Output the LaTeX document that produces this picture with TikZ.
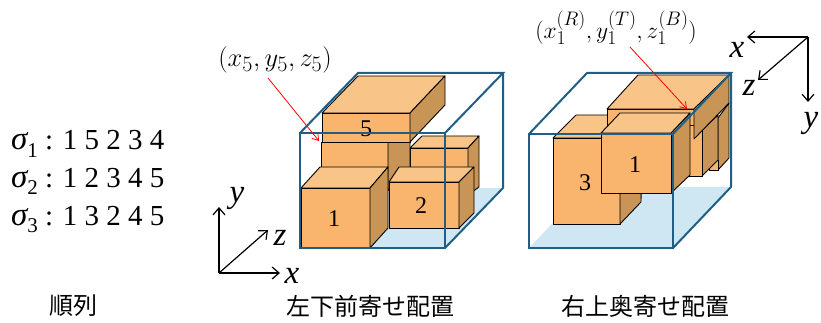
\documentclass[tikz,border=0pt]{standalone}
\usepackage{graphicx}
\usepackage{fontspec}
\setmainfont{Liberation Serif}
\newfontfamily\cjk{Noto Sans CJK JP}
\usetikzlibrary{arrows.meta}
\definecolor{framec}{HTML}{1F5F85}
\definecolor{floorc}{HTML}{CFE6F3}
\definecolor{frontc}{HTML}{F9B56D}
\definecolor{topc}{HTML}{F9C488}
\definecolor{sidec}{HTML}{C99556}
\newcommand{\sg}[1]{{\fontsize{33}{33}\selectfont\itshape σ}\raisebox{-7pt}{\fontsize{21}{21}\selectfont #1}}
\tikzset{
  front/.style={fill=frontc,draw=black,line width=0.9pt,line join=round},
  topf/.style={fill=topc,draw=black,line width=0.9pt,line join=round},
  sidef/.style={fill=sidec,draw=black,line width=0.9pt,line join=round},
  frameline/.style={draw=framec,line width=2pt,line join=miter},
  axis/.style={draw=black,line width=1.2pt,-{Straight Barb[length=7pt,width=12pt,line width=1.2pt]}},
  redarrow/.style={draw=red,line width=0.8pt,-{Straight Barb[length=6pt,width=8pt,line width=0.8pt]}},
  boxnum/.style={font=\fontsize{24}{24}\selectfont,inner sep=0},
  axlab/.style={font=\fontsize{33}{33}\selectfont\itshape,inner sep=0},
  seq/.style={font=\fontsize{29}{29}\selectfont,inner sep=0,anchor=base west},
  formula/.style={font=\fontsize{24.88}{25}\selectfont,inner sep=0},
  caption/.style={font=\cjk\fontsize{24}{24}\selectfont,inner sep=0}
}
\begin{document}
\begin{tikzpicture}[x=1pt,y=-1pt]
\useasboundingbox (0,0) rectangle (821,323);
% --- sequences
\node[seq] (s1) at (11,150) {\sg{1} : 1 5 2 3 4};
\node[seq] (s2) at (11,187) {\sg{2} : 1 2 3 4 5};
\node[seq] (s3) at (11,225) {\sg{3} : 1 3 2 4 5};
\node[caption] (c1) at (73,306) {順列};
\node[caption] (c2) at (370,306) {左下前寄せ配置};
\node[caption] (c3) at (645,306) {右上奥寄せ配置};
% --- left container
\fill[floorc] (300,248) -- (445,248) -- (503,188) -- (358,188) -- cycle;
% box 4 (back right)
\draw[topf] (410,148) -- (422,136) -- (479,136) -- (468,148) -- cycle;
\draw[front] (410,148) rectangle (468,195);
\draw[sidef] (468,148) -- (479,136) -- (479,187) -- (468,195) -- cycle;
% box under 5
\draw[front] (321,142) rectangle (388,190);
\draw[sidef] (388,142) -- (410,142) -- (410,170) -- (388,190) -- cycle;
% box 5
\draw[topf] (322,113) -- (358,76) -- (445,76) -- (410,113) -- cycle;
\draw[front] (322,113) rectangle (410,142);
\draw[sidef] (410,113) -- (445,76) -- (445,105) -- (410,142) -- cycle;
\node[boxnum] (n5) at (366,129) {5};
% box 2
\draw[topf] (389,182) -- (399,167) -- (474,167) -- (459,182) -- cycle;
\draw[front] (389,182) rectangle (459,228);
\draw[sidef] (459,182) -- (474,167) -- (474,213) -- (459,228) -- cycle;
\node[boxnum] (n2) at (421,206) {2};
% box 1
\draw[topf] (301,188) -- (320,167) -- (388,167) -- (370,188) -- cycle;
\draw[front] (301,188) rectangle (370,248);
\draw[sidef] (370,188) -- (388,167) -- (388,228) -- (370,248) -- cycle;
\node[boxnum] (n1) at (334,219) {1};
% frame
\draw[frameline] (300,133) rectangle (445,248);
\draw[frameline] (300,133) -- (358,73) -- (503,73) -- (445,133);
\draw[frameline] (503,73) -- (503,188) -- (445,248);
% label + arrow
\node[formula] (l5) at (275,60) {\scalebox{1.065}{$(x_5,y_5,z_5)$}};
\coordinate (l5s) at (268,78);
\coordinate (l5e) at (319,141);
\draw[redarrow] (l5s) -- (l5e);
% left axes
\coordinate (o1) at (219,273);
\coordinate (ay1) at (219,207);
\coordinate (ax1) at (280,273);
\coordinate (az1) at (268,230);
\draw[axis] (o1) -- (ay1);
\draw[axis] (o1) -- (ax1);
\draw[axis] (o1) -- (az1);
\node[axlab] (ly1) at (237,198) {y};
\node[axlab] (lz1) at (280,238) {z};
\node[axlab] (lx1) at (292,276) {x};
% --- right container
\fill[floorc] (529,248) -- (673,248) -- (731,187) -- (587,187) -- cycle;
% box 3
\draw[topf] (553,138) -- (576,115) -- (642,115) -- (620,138) -- cycle;
\draw[front] (553,138) rectangle (620,224);
\draw[sidef] (620,138) -- (642,115) -- (641,202) -- (620,224) -- cycle;
\node[boxnum] (r3) at (585,183) {3};
% right column boxes
\draw[sidef] (718,118) -- (729,103) -- (729,158) -- (718,170) -- cycle;
\draw[front] (709,160) rectangle (718,170);
\draw[sidef] (702,130) -- (718,115) -- (718,160) -- (702,176) -- cycle;
\draw[front] (685,120) rectangle (702,176);
% large top box
\draw[front] (607,109) rectangle (694,125);
\draw[topf] (607,109) -- (638,75) -- (729,75) -- (694,109) -- cycle;
\draw[sidef] (694,109) -- (729,75) -- (729,103) -- (694,139) -- cycle;
% box 1
\draw[sidef] (671,133) -- (690,113) -- (690,175) -- (671,193) -- cycle;
\draw[topf] (601,133) -- (620,113) -- (690,113) -- (671,133) -- cycle;
\draw[front] (601,133) rectangle (671,193);
\node[boxnum] (r1) at (635,165) {1};
% frame
\draw[frameline] (529,134) rectangle (673,248);
\draw[frameline] (529,134) -- (587,73) -- (731,73) -- (673,134);
\draw[frameline] (731,73) -- (731,187) -- (673,248);
% label + arrow
\node[formula] (l1) at (616,28) {\scalebox{0.945}{$(x_1^{(R)},y_1^{(T)},z_1^{(B)})$}};
\coordinate (l1s) at (630,47);
\coordinate (l1e) at (687,109);
\draw[redarrow] (l1s) -- (l1e);
% right axes
\coordinate (o2) at (808,37);
\coordinate (ax2) at (747,37);
\coordinate (ay2) at (808,102);
\coordinate (az2) at (758,80);
\draw[axis] (o2) -- (ax2);
\draw[axis] (o2) -- (ay2);
\draw[axis] (o2) -- (az2);
\node[axlab] (lx2) at (737,50) {x};
\node[axlab] (lz2) at (749,88) {z};
\node[axlab] (ly2) at (811,123) {y};
\end{tikzpicture}
\end{document}
